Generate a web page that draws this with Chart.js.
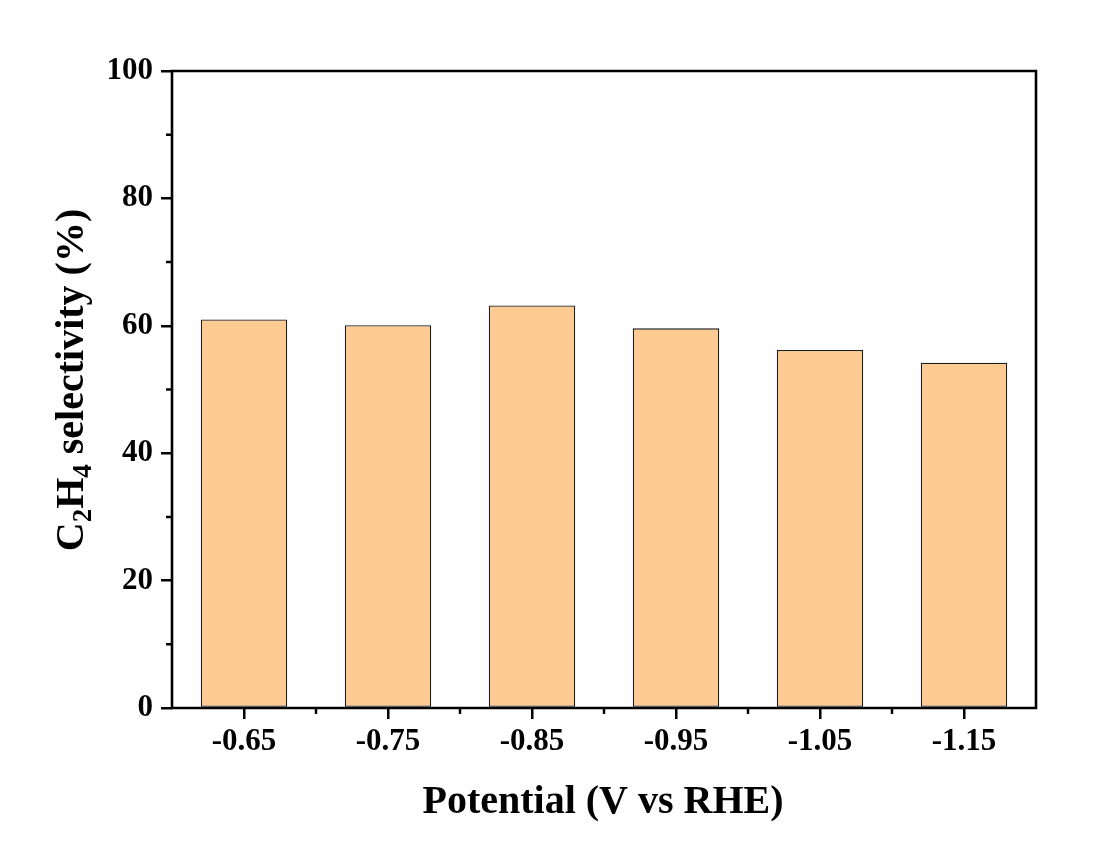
<!DOCTYPE html>
<html>
<head>
<meta charset="utf-8">
<script src="https://cdn.jsdelivr.net/npm/chart.js@4.4.1/dist/chart.umd.min.js"></script>
<style>
html,body{margin:0;padding:0;background:#fff;}
#wrap{width:1100px;height:843px;}
</style>
</head>
<body>
<div id="wrap"><canvas id="c" width="1100" height="843"></canvas></div>
<script>
const categories = ['-0.65', '-0.75', '-0.85', '-0.95', '-1.05', '-1.15'];
const selectivity = [61.0, 60.1, 63.2, 59.6, 56.2, 54.2];
const yTicks = [0, 20, 40, 60, 80, 100];
const yMinorTicks = [10, 30, 50, 70, 90];
const xTitle = 'Potential (V vs RHE)';
const yTitleParts = [['C', false], ['2', true], ['H', false], ['4', true], [' selectivity (%)', false]];

const FONT = '"Liberation Serif", "Times New Roman", serif';

const framePlugin = {
  id: 'frame',
  afterDraw(chart) {
    const ctx = chart.ctx;
    const a = chart.chartArea;
    const xs = chart.scales.x, ys = chart.scales.y;
    ctx.save();
    ctx.strokeStyle = '#000';
    ctx.lineWidth = 2.6;
    ctx.beginPath();
    ctx.moveTo(a.left, a.bottom);
    ctx.lineTo(a.left, a.top);
    ctx.lineTo(a.right, a.top);
    ctx.lineTo(a.right, a.bottom);
    ctx.closePath();
    ctx.stroke();
    // minor ticks
    ctx.lineWidth = 2.5;
    ctx.beginPath();
    yMinorTicks.forEach(v => {
      const y = ys.getPixelForValue(v);
      ctx.moveTo(a.left, y);
      ctx.lineTo(a.left - 6, y);
    });
    for (let i = 1; i < categories.length; i++) {
      const x = (xs.getPixelForValue(i - 1) + xs.getPixelForValue(i)) / 2;
      ctx.moveTo(x, a.bottom);
      ctx.lineTo(x, a.bottom + 6);
    }
    ctx.stroke();
    // titles
    ctx.fillStyle = '#000';
    ctx.font = 'bold 40px ' + FONT;
    ctx.textAlign = 'center';
    ctx.textBaseline = 'alphabetic';
    ctx.fillText(xTitle, 603, 813);
    // y title with subscripts
    const big = 'bold 40px ' + FONT, small = 'bold 27px ' + FONT;
    let total = 0;
    yTitleParts.forEach(([t, sub]) => { ctx.font = sub ? small : big; total += ctx.measureText(t).width; });
    ctx.translate(83, 380);
    ctx.rotate(-Math.PI / 2);
    ctx.textAlign = 'left';
    let x = -total / 2;
    yTitleParts.forEach(([t, sub]) => {
      ctx.font = sub ? small : big;
      ctx.fillText(t, x, sub ? 8 : 0);
      x += ctx.measureText(t).width;
    });
    ctx.restore();
  }
};

new Chart(document.getElementById('c'), {
  type: 'bar',
  data: {
    labels: categories,
    datasets: [{
      data: selectivity,
      backgroundColor: '#FDCB92',
      borderColor: '#1a1a1a',
      borderWidth: 1.3,
      borderSkipped: false,
      barPercentage: 0.6,
      categoryPercentage: 1.0
    }]
  },
  options: {
    responsive: false,
    animation: false,
    layout: { padding: { left: 0, right: 64, top: 71, bottom: 0 } },
    plugins: { legend: { display: false }, tooltip: { enabled: false } },
    scales: {
      x: {
        offset: true,
        grid: { display: true, offset: false, drawOnChartArea: false, drawTicks: true, tickLength: 11, lineWidth: 2.5, color: '#000' },
        border: { display: false },
        ticks: { color: '#000', font: { family: FONT, size: 31, weight: 'bold' }, padding: 4, maxRotation: 0 },
        afterFit(s) { s.height = 135; }
      },
      y: {
        min: 0, max: 100,
        afterBuildTicks(s) { s.ticks = yTicks.map(v => ({ value: v })); },
        grid: { display: true, drawOnChartArea: false, drawTicks: true, tickLength: 11, lineWidth: 2.5, color: '#000' },
        border: { display: false },
        ticks: { color: '#000', font: { family: FONT, size: 31, weight: 'bold' }, padding: 8 },
        afterFit(s) { s.width = 172; }
      }
    }
  },
  plugins: [framePlugin]
});
</script>
</body>
</html>
